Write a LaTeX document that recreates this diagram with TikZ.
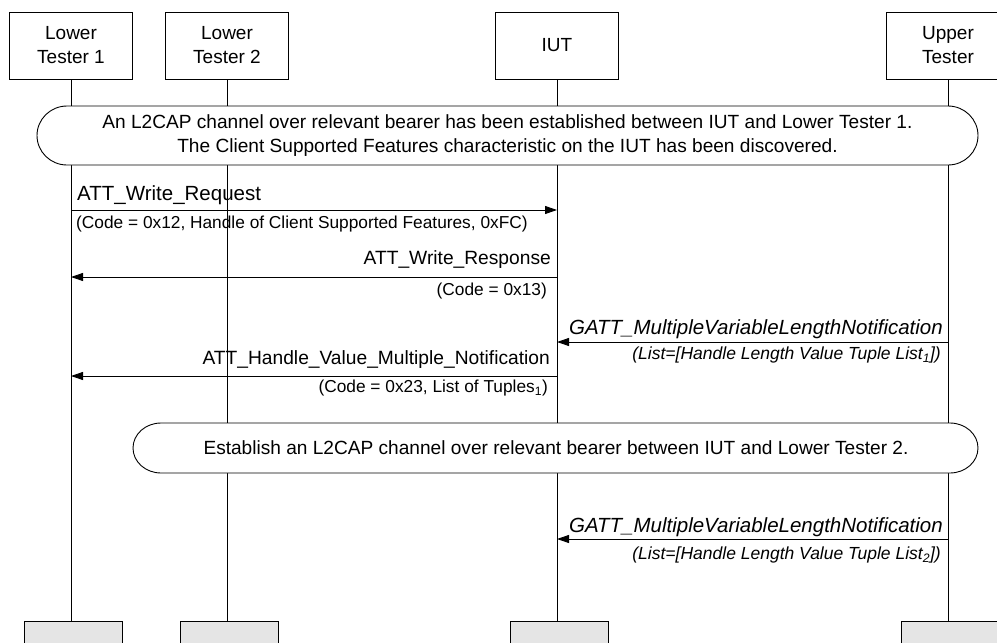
\documentclass[tikz,border=0pt]{standalone}
\usepackage{fontspec}
\setmainfont{Liberation Sans}
\usetikzlibrary{arrows.meta}
\begin{document}
\begin{tikzpicture}[x=1pt,y=-1pt,
  hdr/.style={draw, line width=0.9pt, minimum width=123pt, minimum height=67pt, align=center, font=\fontsize{19}{24}\selectfont, inner sep=0pt},
  ftr/.style={draw, fill=black!10, line width=0.9pt, minimum width=98pt, minimum height=40pt, anchor=north},
  life/.style={line width=0.9pt},
  msg/.style={line width=0.9pt, -{Triangle[length=12pt,width=8pt]}},
  lbl/.style={inner sep=0pt, font=\fontsize{19.2}{22}\selectfont},
  sub/.style={inner sep=0pt, font=\fontsize{17.3}{20}\selectfont},
  ilbl/.style={inner sep=0pt, font=\fontsize{20.5}{22}\selectfont\itshape},
  isub/.style={inner sep=0pt, font=\fontsize{17.5}{20}\selectfont\itshape},
  cond/.style={draw, fill=white, line width=0.9pt},
  condtxt/.style={align=center, inner sep=0pt, font=\fontsize{19.1}{24}\selectfont}]
\clip (0,0) rectangle (997,643);
\fill[white] (0,0) rectangle (997,643);
% headers
\node[hdr] (lt1) at (71,45.5) {Lower\\Tester 1};
\node[hdr] (lt2) at (227,45.5) {Lower\\Tester 2};
\node[hdr] (iut) at (557,45.5) {IUT};
\node[hdr] (ut) at (948,45.5) {Upper\\Tester};
% footers
\node[ftr] (b1) at (73,621) {};
\node[ftr] (b2) at (229,621) {};
\node[ftr] (b3) at (559,621) {};
\node[ftr] (b4) at (950,621) {};
% lifelines
\draw[life] (lt1.south) -- (lt1.south |- b1.north);
\draw[life] (lt2.south) -- (lt2.south |- b2.north);
\draw[life] (iut.south) -- (iut.south |- b3.north);
\draw[life] (ut.south) -- (ut.south |- b4.north);
% condition 1
\draw[cond] (67,106) -- (948,106) arc[start angle=-90,end angle=90,x radius=30,y radius=29.5]
  -- (67,165) arc[start angle=90,end angle=270,x radius=30,y radius=29.5] -- cycle;
\node[condtxt] (c1) at (507.5,136) {An L2CAP channel over relevant bearer has been established between IUT and Lower Tester 1.\\The Client Supported Features characteristic on the IUT has been discovered.};
% condition 2
\draw[cond] (161,423) -- (950,423) arc[start angle=-90,end angle=90,x radius=28,y radius=25]
  -- (161,473) arc[start angle=90,end angle=270,x radius=28,y radius=25] -- cycle;
\node[condtxt] (c2) at (556,448) {Establish an L2CAP channel over relevant bearer between IUT and Lower Tester 2.};
% message endpoints
\coordinate (m1a) at (71,210); \coordinate (m1b) at (557,210);
\coordinate (m2a) at (557,277); \coordinate (m2b) at (71,277);
\coordinate (m3a) at (948,342); \coordinate (m3b) at (557,342);
\coordinate (m4a) at (557,376); \coordinate (m4b) at (71,376);
\coordinate (m5a) at (948,539); \coordinate (m5b) at (557,539);
\draw[msg] (m1a) -- (m1b);
\draw[msg] (m2a) -- (m2b);
\draw[msg] (m3a) -- (m3b);
\draw[msg] (m4a) -- (m4b);
\draw[msg] (m5a) -- (m5b);
% labels
\node[lbl, anchor=west, font=\fontsize{20.5}{22}\selectfont] (l1) at (77,195) {ATT\_Write\_Request};
\node[sub, anchor=west] (s1) at (76,224) {(Code = 0x12, Handle of Client Supported Features, 0xFC)};
\node[lbl, anchor=east] (l2) at (551,260) {ATT\_Write\_Response};
\node[sub, anchor=east] (s2) at (547,291) {(Code = 0x13)};
\node[ilbl, anchor=east] (l3) at (943,329) {GATT\_MultipleVariableLengthNotification};
\node[isub, anchor=east] (s3) at (941,355) {(List=[Handle Length Value Tuple List\textsubscript{1}])};
\node[lbl, anchor=east] (l4) at (550,360) {ATT\_Handle\_Value\_Multiple\_Notification};
\node[sub, anchor=east] (s4) at (548,388) {(Code = 0x23, List of Tuples\textsubscript{1})};
\node[ilbl, anchor=east] (l5) at (943,527) {GATT\_MultipleVariableLengthNotification};
\node[isub, anchor=east] (s5) at (941,555) {(List=[Handle Length Value Tuple List\textsubscript{2}])};
\end{tikzpicture}
\end{document}
